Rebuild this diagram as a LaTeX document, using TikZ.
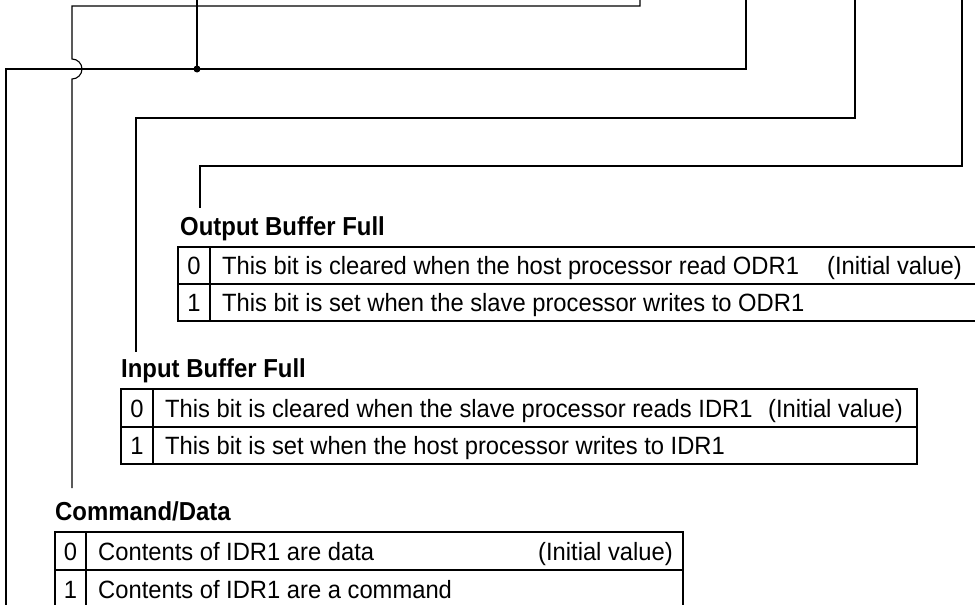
\documentclass[tikz,border=0pt]{standalone}
\usepackage{fontspec}
\setmainfont{Liberation Sans}[FakeStretch=0.95]
\newfontfamily\narrowsans{Liberation Sans}[FakeStretch=0.92]

\begin{document}
\begin{tikzpicture}[x=1pt, y=-1pt, wire/.style={line width=1.1pt}, grid/.style={line width=1.1pt}, ttl/.style={anchor=base west, inner sep=0pt, font=\narrowsans\bfseries\fontsize{26}{30}\selectfont}, bitno/.style={anchor=base, inner sep=0pt, font=\fontsize{25}{29}\selectfont}, desc/.style={anchor=base west, inner sep=0pt, font=\fontsize{25}{29}\selectfont}, init/.style={anchor=base east, inner sep=0pt, font=\fontsize{25}{29}\selectfont}]
\useasboundingbox (0,0) rectangle (975,605);

% Output Buffer Full
\node[ttl] (obf) at (180,235) {Output Buffer Full};
\draw[grid] (178,247) rectangle (980,321) (178,284) -- (980,284) (210,247) -- (210,321);
\node[bitno] (obf0) at (194,274.5) {0};
\node[desc] (obf0d) at (222,274.5) {This bit is cleared when the host processor read ODR1};
\node[init] (obf0i) at (962,274.5) {(Initial value)};
\node[bitno] (obf1) at (194,311.5) {1};
\node[desc] (obf1d) at (222,311.5) {This bit is set when the slave processor writes to ODR1};

% Input Buffer Full
\node[ttl] (ibf) at (121,377) {Input Buffer Full};
\draw[grid] (121,389) rectangle (917,464) (121,427) -- (917,427) (153,389) -- (153,464);
\node[bitno] (ibf0) at (137,417) {0};
\node[desc] (ibf0d) at (165,417) {This bit is cleared when the slave processor reads IDR1};
\node[init] (ibf0i) at (903,417) {(Initial value)};
\node[bitno] (ibf1) at (137,454.5) {1};
\node[desc] (ibf1d) at (165,454.5) {This bit is set when the host processor writes to IDR1};

% Command/Data
\node[ttl] (cd) at (55,520) {Command/Data};
\draw[grid] (55,532) rectangle (683,610) (55,570) -- (683,570) (86,532) -- (86,610);
\node[bitno] (cd0) at (70.5,560) {0};
\node[desc] (cd0d) at (98,560) {Contents of IDR1 are data};
\node[init] (cd0i) at (673,560) {(Initial value)};
\node[bitno] (cd1) at (70.5,598) {1};
\node[desc] (cd1d) at (98,598) {Contents of IDR1 are a command};

% wires from the register bits
\coordinate (cdIn) at (640,0);
\coordinate (cdBend) at (72,6);
\coordinate (cdEnd) at (72,488);
\coordinate (rxIn) at (746,0);
\coordinate (rxBend) at (6,69);
\coordinate (rxOut) at (6,610);
\coordinate (txIn) at (197,0);
\coordinate (txJoin) at (197,69);
\coordinate (ibfIn) at (855,0);
\coordinate (ibfBend) at (136,118);
\coordinate (ibfEnd) at (136,352);
\coordinate (obfIn) at (962,0);
\coordinate (obfBend) at (200,166);
\coordinate (obfEnd) at (200,208);

\draw[wire] (rxIn) |- (rxBend) -- (rxOut);
\draw[wire] (txIn) -- (txJoin);
\fill (txJoin) circle (3.5);
\draw[wire] (cdIn) |- (cdBend) -- (72,59) arc[start angle=-90, end angle=90, radius=10] -- (cdEnd);
\draw[wire] (ibfIn) |- (ibfBend) -- (ibfEnd);
\draw[wire] (obfIn) |- (obfBend) -- (obfEnd);
\end{tikzpicture}
\end{document}
